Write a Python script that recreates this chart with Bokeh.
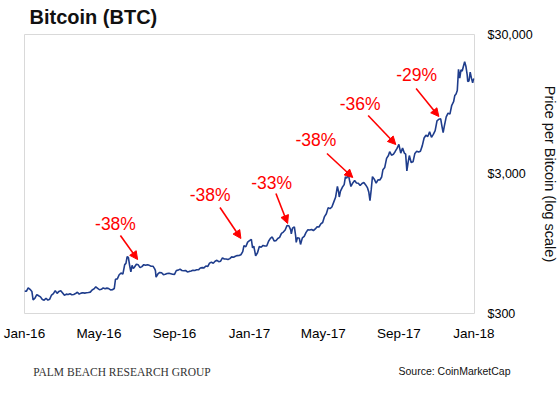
import pandas as pd
from bokeh.plotting import figure
from bokeh.models import ColumnDataSource, FixedTicker, Range1d, Label, Arrow, NormalHead
from bokeh.core.properties import value
from bokeh.embed import file_html
from bokeh.resources import INLINE

# ---------------- data ----------------
dates = [
    "2016-01-01", "2016-01-04", "2016-01-07", "2016-01-10", "2016-01-13", "2016-01-15", "2016-01-18",
    "2016-01-21", "2016-01-24", "2016-01-27", "2016-01-30", "2016-02-02", "2016-02-05", "2016-02-08",
    "2016-02-11", "2016-02-14", "2016-02-17", "2016-02-20", "2016-02-23", "2016-02-26", "2016-02-29",
    "2016-03-03", "2016-03-06", "2016-03-09", "2016-03-12", "2016-03-15", "2016-03-18", "2016-03-21",
    "2016-03-24", "2016-03-27", "2016-03-30", "2016-04-02", "2016-04-05", "2016-04-08", "2016-04-11",
    "2016-04-14", "2016-04-17", "2016-04-20", "2016-04-23", "2016-04-26", "2016-04-29", "2016-05-02",
    "2016-05-05", "2016-05-08", "2016-05-11", "2016-05-14", "2016-05-17", "2016-05-20", "2016-05-23",
    "2016-05-26", "2016-05-28", "2016-05-31", "2016-06-03", "2016-06-06", "2016-06-09", "2016-06-12",
    "2016-06-14", "2016-06-16", "2016-06-18", "2016-06-20", "2016-06-22", "2016-06-24", "2016-06-26",
    "2016-06-28", "2016-07-01", "2016-07-04", "2016-07-07", "2016-07-10", "2016-07-13", "2016-07-16",
    "2016-07-19", "2016-07-22", "2016-07-25", "2016-07-28", "2016-07-31", "2016-08-01", "2016-08-02",
    "2016-08-05", "2016-08-08", "2016-08-11", "2016-08-14", "2016-08-17", "2016-08-20", "2016-08-23",
    "2016-08-26", "2016-08-29", "2016-09-01", "2016-09-04", "2016-09-07", "2016-09-10", "2016-09-13",
    "2016-09-16", "2016-09-19", "2016-09-22", "2016-09-25", "2016-09-28", "2016-10-01", "2016-10-04",
    "2016-10-07", "2016-10-10", "2016-10-13", "2016-10-16", "2016-10-19", "2016-10-22", "2016-10-25",
    "2016-10-28", "2016-10-31", "2016-11-03", "2016-11-06", "2016-11-09", "2016-11-12", "2016-11-15",
    "2016-11-18", "2016-11-21", "2016-11-24", "2016-11-27", "2016-11-30", "2016-12-03", "2016-12-06",
    "2016-12-09", "2016-12-12", "2016-12-15", "2016-12-18", "2016-12-21", "2016-12-23", "2016-12-26",
    "2016-12-29",
    "2017-01-01", "2017-01-04", "2017-01-06", "2017-01-08", "2017-01-11", "2017-01-14", "2017-01-17",
    "2017-01-20", "2017-01-23", "2017-01-26", "2017-01-29", "2017-02-01", "2017-02-04", "2017-02-07",
    "2017-02-10", "2017-02-13", "2017-02-16", "2017-02-19", "2017-02-22", "2017-02-25", "2017-02-28",
    "2017-03-03", "2017-03-06", "2017-03-09", "2017-03-10", "2017-03-12", "2017-03-15", "2017-03-17",
    "2017-03-18", "2017-03-20", "2017-03-23", "2017-03-25", "2017-03-28", "2017-03-31", "2017-04-03",
    "2017-04-06", "2017-04-09", "2017-04-12", "2017-04-15", "2017-04-18", "2017-04-21", "2017-04-24",
    "2017-04-27", "2017-04-30", "2017-05-03", "2017-05-06", "2017-05-09", "2017-05-12", "2017-05-15",
    "2017-05-18", "2017-05-21", "2017-05-24", "2017-05-26", "2017-05-27", "2017-05-29", "2017-06-01",
    "2017-06-04", "2017-06-06", "2017-06-08", "2017-06-11", "2017-06-13", "2017-06-15", "2017-06-18",
    "2017-06-21", "2017-06-24", "2017-06-27", "2017-06-30", "2017-07-03", "2017-07-06", "2017-07-09",
    "2017-07-12", "2017-07-14", "2017-07-16", "2017-07-18", "2017-07-20", "2017-07-23", "2017-07-26",
    "2017-07-29", "2017-08-01", "2017-08-04", "2017-08-06", "2017-08-09", "2017-08-12", "2017-08-15",
    "2017-08-17", "2017-08-20", "2017-08-23", "2017-08-26", "2017-08-29", "2017-09-01", "2017-09-04",
    "2017-09-07", "2017-09-10", "2017-09-12", "2017-09-14", "2017-09-16", "2017-09-18", "2017-09-21",
    "2017-09-24", "2017-09-27", "2017-09-30", "2017-10-03", "2017-10-06", "2017-10-09", "2017-10-12",
    "2017-10-15", "2017-10-18", "2017-10-21", "2017-10-24", "2017-10-27", "2017-10-30", "2017-11-02",
    "2017-11-05", "2017-11-08", "2017-11-10", "2017-11-12", "2017-11-14", "2017-11-17", "2017-11-20",
    "2017-11-23", "2017-11-26", "2017-11-29", "2017-12-01", "2017-12-03", "2017-12-05", "2017-12-07",
    "2017-12-09", "2017-12-11", "2017-12-13", "2017-12-15", "2017-12-17", "2017-12-19", "2017-12-21",
    "2017-12-22", "2017-12-24", "2017-12-26", "2017-12-28", "2017-12-30", "2017-12-31", "2018-01-01",
]
prices = [
    434, 433, 458, 447, 432, 375, 387,
    410, 402, 395, 378, 374, 386, 374,
    380, 407, 417, 438, 418, 432, 437,
    421, 405, 413, 411, 416, 409, 411,
    417, 426, 413, 420, 423, 420, 422,
    424, 427, 442, 450, 466, 455, 444,
    447, 458, 452, 456, 453, 443, 444,
    453, 528, 531, 569, 585, 574, 672,
    686, 766, 756, 665, 596, 665, 630,
    647, 677, 670, 640, 650, 672, 664,
    672, 664, 655, 655, 624, 607, 547,
    576, 591, 588, 570, 574, 581, 583,
    579, 574, 572, 610, 614, 624, 610,
    607, 610, 596, 601, 605, 613, 610,
    617, 617, 636, 640, 637, 657, 651,
    689, 700, 688, 711, 722, 705, 711,
    751, 737, 737, 732, 742, 764, 759,
    772, 780, 781, 791, 832, 921, 902,
    975,
    998, 1020, 886, 911, 777, 818, 908,
    896, 923, 915, 914, 989, 1036, 1061,
    995, 998, 1035, 1055, 1126, 1150, 1190,
    1283, 1277, 1194, 1116, 1226, 1255, 1087,
    971, 1049, 1040, 938, 1045, 1072, 1144,
    1194, 1190, 1201, 1180, 1211, 1256, 1251,
    1317, 1347, 1485, 1556, 1722, 1693, 1741,
    1885, 2043, 2446, 2227, 2053, 2260, 2408,
    2516, 2863, 2805, 2958, 2659, 2442, 2589,
    2691, 2589, 2574, 2480, 2564, 2609, 2506,
    2384, 2233, 1930, 2318, 2871, 2754, 2576,
    2726, 2718, 2856, 3213, 3342, 3884, 4073,
    4332, 4091, 4151, 4353, 4579, 4892, 4236,
    4599, 4229, 4161, 3155, 3638, 4068, 3631,
    3667, 4212, 4361, 4310, 4370, 4773, 5430,
    5690, 5572, 6013, 5504, 5770, 6131, 7208,
    7407, 7459, 6618, 5951, 6636, 7708, 8200,
    8059, 9331, 9888, 10975, 11246, 11917, 16867,
    14607, 16732, 16408, 17776, 19141, 17777, 15562,
    13831, 13926, 16100, 14607, 13500, 14157, 14500,
]

tick_dates = ["2016-01-01", "2016-05-01", "2016-09-01", "2017-01-01",
              "2017-05-01", "2017-09-01", "2018-01-01"]
tick_labels = ["Jan-16", "May-16", "Sep-16", "Jan-17", "May-17", "Sep-17", "Jan-18"]
y_ticks = [300, 3000, 30000]
y_tick_labels = ["$300", "$3,000", "$30,000"]

ann_text = ["-38%", "-38%", "-33%", "-38%", "-36%", "-29%"]
ann_text_date = ["2016-05-28", "2016-10-29", "2017-02-06", "2017-04-19", "2017-06-30", "2017-09-30"]
ann_text_price = [1304, 2122, 2565, 5217, 9450, 15250]
ann_from_date = ["2016-06-05", "2016-11-14", "2017-02-13", "2017-05-07", "2017-07-13", "2017-09-29"]
ann_from_price = [1087, 1726, 2175, 4209, 7880, 12300]
ann_to_date = ["2016-07-03", "2016-12-18", "2017-03-04", "2017-06-18", "2017-08-27", "2017-11-05"]
ann_to_price = [731, 1035, 1325, 2832, 4880, 7750]

x_start_date = "2016-01-01"
x_end_date = "2018-01-02"
y_min, y_max = 300, 30000

# ---------------- helpers ----------------
origin = pd.Timestamp(x_start_date)


def days(ds):
    return [(pd.Timestamp(d) - origin).days for d in ds]


SANS = "Liberation Sans"
RED = "#ff0000"
BLUE = "#1f3d8c"

src = ColumnDataSource(dict(day=days(dates), price=prices))
ann_src = ColumnDataSource(dict(x=days(ann_text_date), y=ann_text_price, text=ann_text))
arr_src = ColumnDataSource(dict(x0=days(ann_from_date), y0=ann_from_price,
                                x1=days(ann_to_date), y1=ann_to_price))

p = figure(width=560, height=397, title="Bitcoin (BTC)",
           x_range=Range1d(0, days([x_end_date])[0]),
           y_range=Range1d(y_min, y_max),
           y_axis_type="log", y_axis_location="right",
           output_backend="svg", toolbar_location=None,
           min_border_left=24, min_border_right=86,
           min_border_top=34, min_border_bottom=84)

p.background_fill_color = "white"
p.border_fill_color = "white"
p.outline_line_color = "#d9d9d9"
p.outline_line_width = 1
p.xgrid.visible = False
p.ygrid.visible = False

p.title.align = "left"
p.title.vertical_align = "top"
p.title.offset = 5
p.title.standoff = 10
p.title.text_font = SANS
p.title.text_font_size = "20px"
p.title.text_font_style = "bold"
p.title.text_color = "#111111"

# x axis
tick_pos = days(tick_dates)
xa = p.xaxis[0]
xa.ticker = FixedTicker(ticks=tick_pos)
xa.major_label_overrides = {t: l for t, l in zip(tick_pos, tick_labels)}
# y axis
ya = p.yaxis[0]
ya.ticker = FixedTicker(ticks=y_ticks)
ya.major_label_overrides = {t: l for t, l in zip(y_ticks, y_tick_labels)}
ya.axis_label = "Price per Bitcoin (log scale)"
ya.axis_label_text_font = SANS
ya.axis_label_text_font_style = "normal"
ya.axis_label_text_font_size = "14.5px"
ya.axis_label_text_color = "#111111"
ya.axis_label_standoff = 6

for ax in (xa, ya):
    ax.axis_line_color = None
    ax.major_tick_line_color = None
    ax.minor_tick_line_color = None
    ax.major_tick_in = 0
    ax.major_tick_out = 0
    ax.minor_tick_in = 0
    ax.minor_tick_out = 0
    ax.major_label_text_font = SANS
    ax.major_label_text_color = "#000000"
xa.major_label_text_font_size = "13.5px"
xa.major_label_standoff = 12
ya.major_label_text_font_size = "12.5px"
ya.major_label_standoff = 13
ya.major_label_text_align = "left"

# price line
p.line(x="day", y="price", source=src, line_color=BLUE, line_width=1.6)

# annotations
p.text(x="x", y="y", text="text", source=ann_src, text_color=RED,
       text_font=value(SANS), text_font_size="17.5px",
       text_align="center", text_baseline="middle")
p.add_layout(Arrow(end=NormalHead(size=8, fill_color=RED, line_color=RED, line_width=1),
                   x_start="x0", y_start="y0", x_end="x1", y_end="y1",
                   source=arr_src, line_color=RED, line_width=1.6))

# footer texts, each in its own panel below the x axis (offsets bring them onto one line)
p.add_layout(Label(x=374, y=-15, x_units="screen", y_units="screen",
                   text="Source: CoinMarketCap", text_font=SANS,
                   text_font_size="10.5px", text_color="#111111",
                   text_align="left", text_baseline="alphabetic"), "below")
p.add_layout(Label(x=8.7, y=-4, x_units="screen", y_units="screen",
                   text="PALM BEACH RESEARCH GROUP", text_font="Liberation Serif",
                   text_font_size="11.5px", text_color="#333333",
                   text_align="left", text_baseline="alphabetic"), "below")

open("out.html", "w").write(file_html(p, INLINE))
